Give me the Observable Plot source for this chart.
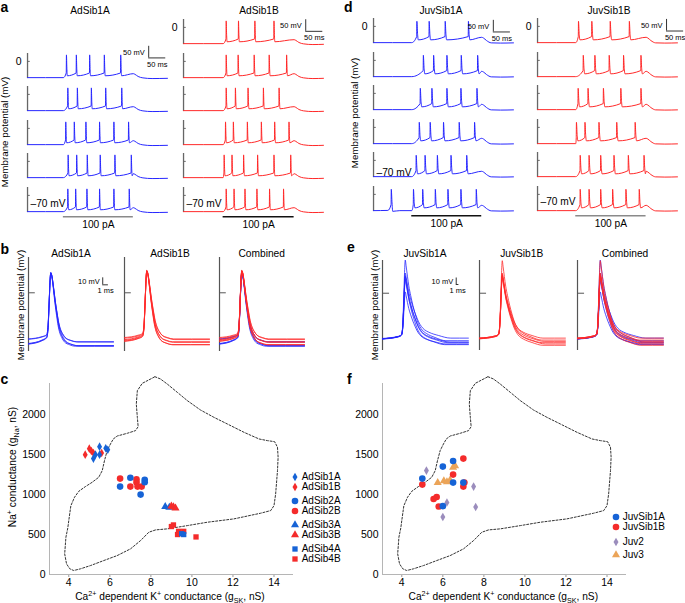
<!DOCTYPE html>
<html>
<head>
<meta charset="utf-8">
<script src="https://cdn.jsdelivr.net/npm/d3@7"></script>
<script src="https://cdn.jsdelivr.net/npm/@observablehq/plot@0.6"></script>
<style>
html,body{margin:0;padding:0;background:#fff;}
#fig{position:relative;width:685px;height:603px;overflow:hidden;font-family:"Liberation Sans",Arial,Helvetica,sans-serif;color:#000;}
#fig .t{position:absolute;white-space:nowrap;line-height:1;}
#fig sup,#fig sub{font-size:70%;line-height:0;}
</style>
</head>
<body>
<div id="fig"></div>
<script>
// ================= DATA =================
// Panels a / d : spike times (ms from trace start), one array per trace row (top to bottom)
const adSib1A_spikes = [
  [114, 143, 182, 225, 273],
  [118, 146, 187, 229, 276],
  [112, 137, 171, 211, 253, 296],
  [119, 144, 175, 213, 256, 304],
  [118, 141, 174, 211, 253, 298]
];
const adSib1B_spikes = [
  [125, 161, 209, 265],
  [125, 160, 207, 251, 302],
  [125, 152, 189, 234, 280],
  [123, 146, 187, 228, 267, 309],
  [119, 142, 176, 217, 265, 314],
  [125, 148, 180, 215, 252, 293]
];
const juvSib1A_spikes = [
  [127, 163, 210, 278],
  [146, 176, 215, 257, 305],
  [137, 171, 215, 256, 303],
  [134, 166, 205, 251, 296],
  [125, 151, 187, 227, 273],
  [52, 117, 144, 181, 218, 256, 301]
];
const juvSib1B_spikes = [
  [120, 159, 213, 269],
  [134, 168, 210, 252, 303],
  [119, 148, 193, 244, 303],
  [114, 139, 180, 232, 286],
  [125, 151, 185, 224, 266, 312],
  [125, 151, 185, 220, 259, 298]
];
// 100 pA current step windows (ms)
const adSib1A_step = [105, 310];
const adSib1B_step = [116, 324];
const juvSib1A_step = [112, 317];
const juvSib1B_step = [112, 318];

// Panels b / e : single action potentials [start, onset, peak, end (mV), width factor]
const adSib1A_ap = [[-66, -60, 29, -70, 1.0], [-66.5, -60.5, 28, -70.5, 1.05], [-72.5, -63.5, 29, -75.5, 1.0], [-73, -64, 28.5, -76, 1.08], [-73.5, -64.5, 28, -76.5, 0.96]];
const adSib1B_ap = [[-64, -58, 32, -66, 1.05], [-65, -59, 31, -67, 1.1], [-67, -60, 32, -70, 1.0], [-68, -61, 31, -71, 1.05], [-69, -62, 31.5, -74, 0.98], [-69.5, -62.5, 30.5, -74.5, 1.02]];
const juvSib1A_ap = [[-70, -64, 51, -73, 1.0], [-70, -64, 31, -69, 1.12], [-70.5, -64.5, 27, -76, 1.05], [-70, -64, 25, -79, 0.97], [-69.5, -63.5, 21, -75, 1.1], [-70, -64, 2, -78, 1.0]];
const juvSib1B_ap = [[-69, -63, 50, -72, 0.97], [-69, -63, 31, -69, 1.0], [-69.5, -63.5, 29, -74, 1.03], [-70, -64, 28, -76, 0.98], [-69, -63, 27, -78, 1.06], [-70, -64, 26, -80, 1.0]];
// AP shape templates: [ms relative to peak, fraction of amplitude]
const adultRise = [[-0.5, 0.12], [-0.3, 0.5], [-0.12, 0.88]];
const adultDecay = [[0.2, 0.95], [0.47, 0.79], [0.75, 0.6], [1.07, 0.42], [1.35, 0.28], [1.67, 0.18], [2.0, 0.12], [2.5, 0.06], [3.47, 0.02], [4.5, 0]];
const juvRise = [[-1.0, 0.1], [-0.6, 0.45], [-0.3, 0.8]];
const juvDecay = [[0.3, 0.93], [0.8, 0.8], [1.3, 0.68], [2.0, 0.56], [2.8, 0.44], [3.6, 0.34], [4.4, 0.25], [5.3, 0.18], [6.3, 0.13], [7.8, 0.09], [11, 0.04], [15, 0]];

// Panel c : conductances (gSK nS, gNa nS)
const adSib1A_gSK = [5.2, 5.3, 5.5, 5.5, 5.8, 5.9];
const adSib1A_gNa = [1450, 1500, 1600, 1500, 1580, 1560];
const adSib1B_gSK = [4.8, 5.0, 5.1, 5.2, 5.6];
const adSib1B_gNa = [1500, 1575, 1545, 1520, 1520];
const adSib2A_gSK = [6.5, 7.0, 7.7, 7.7, 7.5];
const adSib2A_gNa = [1100, 1210, 1185, 1155, 1000];
const adSib2B_gSK = [6.5, 7.0, 7.3, 7.3, 7.35, 7.55];
const adSib2B_gNa = [1200, 1100, 1190, 1150, 1100, 1100];
const adSib3A_gSK = [8.7, 8.9];
const adSib3A_gNa = [850, 840];
const adSib3B_gSK = [9.0, 9.1, 9.2];
const adSib3B_gNa = [855, 845, 830];
const adSib4A_gSK = [9.5, 9.6];
const adSib4A_gNa = [510, 500];
const adSib4B_gSK = [9.0, 9.1, 9.35, 9.6, 9.3, 10.2];
const adSib4B_gNa = [600, 620, 540, 540, 500, 470];
// Panel f
const juvSib1A_gSK = [6.5, 6.0, 5.0, 6.5, 7.0, 6.0];
const juvSib1A_gNa = [1420, 1350, 1200, 1150, 1150, 855];
const juvSib1B_gSK = [7.0, 6.5, 5.0, 7.05, 7.0, 5.55, 5.7, 5.8];
const juvSib1B_gNa = [1450, 1250, 1125, 1150, 1100, 945, 970, 850];
const juv2_gSK = [5.2, 7.5, 6.2, 7.6, 6.0];
const juv2_gNa = [1300, 1100, 900, 845, 720];
const juv3_gSK = [5.75, 6.05, 6.2, 6.35, 6.5, 6.6];
const juv3_gNa = [1150, 1170, 1160, 1180, 1340, 1360];
// dashed boundary of the model solution space
const polyGSK = [8.2, 8.47, 8.8, 9.29, 9.78, 10.42, 11.07, 11.73, 12.54, 13.27, 13.68, 14.03, 14.17, 14.2, 14.17, 14.08, 14.0, 13.84, 13.35, 12.05, 10.75, 9.78, 8.8, 8.23, 7.9, 7.5, 7.01, 6.36, 5.71, 5.06, 4.57, 4.24, 4.05, 3.89, 3.8, 3.86, 3.95, 4.0, 4.1, 4.28, 4.49, 4.81, 5.14, 5.46, 5.63, 5.74, 5.87, 6.03, 6.17, 6.36, 6.85, 7.25, 7.38, 7.34, 7.29, 7.34, 7.58, 8.2];
const polyGNa = [2475, 2446, 2383, 2279, 2175, 2058, 1967, 1883, 1779, 1696, 1675, 1662, 1592, 1467, 1300, 1008, 862, 800, 767, 696, 654, 612, 571, 558, 529, 425, 321, 237, 175, 112, 71, 50, 71, 133, 258, 467, 580, 675, 860, 967, 1042, 1100, 1154, 1217, 1300, 1425, 1550, 1633, 1696, 1733, 1767, 1800, 1850, 1967, 2133, 2300, 2392, 2475];
const xTicks = [4, 6, 8, 10, 12, 14];
const yTicks = [0, 500, 1000, 1500, 2000];

// ================= STYLE / LAYOUT =================
const FONT = '"Liberation Sans", Arial, Helvetica, sans-serif';
const BLUE_TR = "#2626ff", RED_TR = "#ff2828";
const BLUE = "#1663d6", RED = "#f42b2b", PURPLE = "#9b8dbd", ORANGE = "#eba458";
const svgStyle = {overflow: "visible", fontFamily: FONT, fontSize: "10.5px", background: "transparent", color: "#000"};
const fig = document.getElementById("fig");

function place(el, x, y) {
  el.style.position = "absolute"; el.style.left = x + "px"; el.style.top = y + "px";
  el.style.overflow = "visible"; el.style.maxWidth = "none";
  fig.appendChild(el); return el;
}
function label(html, x, y, o = {}) {
  const d = document.createElement("div");
  d.className = "t";
  d.innerHTML = html;
  d.style.fontSize = (o.size || 10.2) + "px";
  if (o.bold) d.style.fontWeight = "bold";
  const tx = o.anchor === "start" ? "0" : o.anchor === "end" ? "-100%" : "-50%";
  d.style.transform = `translate(${tx},-50%)` + (o.rotate ? ` rotate(${o.rotate}deg)` : "");
  return place(d, x, y);
}

// ---------- traces (a, d) ----------
const ADULT = {rest: -70, ahp: -62, thr: -50, peak: 28, w: 1.0, end: -74};
const JUV = {rest: -70, ahp: -58, thr: -44, peak: 22, w: 1.6, end: -72};
const ROW_T = 410, ROW_PX = 0.3415, ROW_V = [-78, 34], ROW_H = 28, ROW_STEP = 33.5;

function buildTrace(spikes, stim, L, T) {
  const pts = [{t: 0, v: L.rest}];
  const spike = s => [{t: s - 0.6, v: L.thr}, {t: s, v: L.peak}, {t: s + 1.2 * L.w, v: -30}, {t: s + 2.6 * L.w, v: L.ahp}];
  for (const s of spikes.filter(s => s < stim[0])) {
    pts.push({t: s - 10, v: L.rest + 1}, ...spike(s).slice(0, 3), {t: s + 2.6 * L.w, v: L.rest - 3}, {t: s + 25, v: L.rest});
  }
  pts.push({t: stim[0], v: L.rest});
  const during = spikes.filter(s => s >= stim[0]);
  for (const s of during) pts.push(...spike(s));
  const tEnd = Math.max(stim[1], (during.length ? during[during.length - 1] : 0) + 6);
  pts.push({t: tEnd, v: L.thr - 3}, {t: tEnd + 5, v: L.thr - 6}, {t: tEnd + 14, v: L.ahp - 3},
           {t: tEnd + 28, v: L.rest - 1}, {t: tEnd + 55, v: L.end}, {t: T, v: L.end + 1});
  return pts;
}

function traceColumn(c) {
  c.spikes.forEach((spikes, i) => {
    const last = i === c.spikes.length - 1;
    const marks = [
      Plot.ruleX([0], {y1: -74, y2: 34, stroke: "#666", strokeWidth: 1.3}),
      Plot.ruleY([0], {x1: 0, x2: 8, stroke: "#666", strokeWidth: 1}),
      Plot.line(buildTrace(spikes, c.stim, c.L, ROW_T), {x: "t", y: "v", stroke: c.color, strokeWidth: 1, curve: "monotone-x"})
    ];
    if (i === 0) {
      marks.push(
        Plot.text(["0"], {x: 0, y: 0, text: d => d, dx: -6, textAnchor: "end", fontSize: 10.5}),
        Plot.ruleX([c.bar.t], {y1: c.bar.v, y2: c.bar.v + 50, stroke: "#333", strokeWidth: 1}),
        Plot.ruleY([c.bar.v], {x1: c.bar.t, x2: c.bar.t + 50, stroke: "#333", strokeWidth: 1}),
        Plot.text(["50 mV"], {x: c.bar.t, y: c.bar.v + 25, text: d => d, dx: -4, textAnchor: "end", fontSize: 7.5}),
        Plot.text(["50 ms"], {x: c.bar.t + 25, y: c.bar.v, text: d => d, dy: 6.5, fontSize: 7.5})
      );
    }
    if (i === c.restRow) {
      marks.push(Plot.text(["\u201370 mV"], {x: 0, y: -70, text: d => d, dx: 3, dy: c.restDy, textAnchor: "start", fontSize: 10.2}));
    }
    if (last) {
      marks.push(
        Plot.ruleY([-92], {x1: c.stim[0], x2: c.stim[1], stroke: c.stimColor, strokeWidth: 1.3}),
        Plot.text(["100 pA"], {x: (c.stim[0] + c.stim[1]) / 2, y: -92, text: d => d, dy: 8, fontSize: 10.2})
      );
    }
    const svg = Plot.plot({
      width: ROW_T * ROW_PX + 2, height: ROW_H,
      marginLeft: 1, marginRight: 1, marginTop: 1, marginBottom: 1,
      x: {domain: [0, ROW_T], axis: null},
      y: {domain: ROW_V, axis: null},
      style: svgStyle, marks
    });
    const base = c.base0 + i * ROW_STEP;
    const top = base - (1 + (ROW_V[1] + 70) / (ROW_V[1] - ROW_V[0]) * (ROW_H - 2));
    place(svg, c.axisX - 1, top);
  });
}

traceColumn({spikes: adSib1A_spikes, stim: adSib1A_step, L: ADULT, color: BLUE_TR, axisX: 27, base0: 77, bar: {t: 355, v: 15}, restRow: 4, restDy: -8, stimColor: "#8a8a8a"});
traceColumn({spikes: adSib1B_spikes, stim: adSib1B_step, L: ADULT, color: RED_TR, axisX: 182.7, base0: 43.3, bar: {t: 358, v: -17}, restRow: 5, restDy: -8, stimColor: "#111"});
traceColumn({spikes: juvSib1A_spikes, stim: juvSib1A_step, L: JUV, color: BLUE_TR, axisX: 373.3, base0: 42.3, bar: {t: 351, v: -24}, restRow: 4, restDy: -4, stimColor: "#111"});
traceColumn({spikes: juvSib1B_spikes, stim: juvSib1B_step, L: JUV, color: RED_TR, axisX: 536.7, base0: 42.3, bar: {t: 378, v: -20}, restRow: 5, restDy: -9, stimColor: "#8a8a8a"});

// ---------- single APs (b, e) ----------
const ADULT_AP = {tPre: 2.4, tOn: 3.2, tPk: 3.93, T: 15, rise: adultRise, decay: adultDecay};
const JUV_AP = {tPre: 5.8, tOn: 7.0, tPk: 8.4, T: 31.7, rise: juvRise, decay: juvDecay};
function buildAP([v0, vOn, vPk, vEnd, k], tm) {
  const pts = [{t: 0, v: v0}, {t: tm.tPre, v: v0 + (vOn - v0) * 0.55}, {t: tm.tOn, v: vOn}];
  for (const [dt, f] of tm.rise) pts.push({t: tm.tPk + dt, v: vOn + f * (vPk - vOn)});
  pts.push({t: tm.tPk, v: vPk});
  for (const [dt, f] of tm.decay) { const t = tm.tPk + dt * k; if (t < tm.T) pts.push({t, v: vEnd + f * (vPk - vEnd)}); }
  pts.push({t: tm.T, v: vEnd});
  return pts;
}
function apPanel(o) {
  const marks = [
    Plot.ruleX([0], {y1: o.vdom[0], y2: o.vdom[1], stroke: "#555", strokeWidth: 1.2}),
    Plot.ruleY([0], {x1: 0, x2: o.tickLen, stroke: "#555", strokeWidth: 1})
  ];
  o.sets.forEach((s, si) => {
    const rows = s.params.flatMap((p, i) => buildAP(p, o.tm).map(d => ({...d, id: si + "-" + i})));
    marks.push(Plot.line(rows, {x: "t", y: "v", z: "id", stroke: s.color, strokeWidth: 0.8, curve: "monotone-x"}));
  });
  if (o.bar) {
    const b = o.bar;
    marks.push(
      Plot.ruleX([b.t], {y1: b.v, y2: b.v + 10, stroke: "#333", strokeWidth: 1}),
      Plot.ruleY([b.v], {x1: b.t, x2: b.t + 1, stroke: "#333", strokeWidth: 1}),
      Plot.text(["10 mV"], {x: b.t, y: b.v + 5, text: d => d, dx: -3, textAnchor: "end", fontSize: 7.5}),
      Plot.text(["1 ms"], {x: b.t + 0.5, y: b.v, text: d => d, dy: 6, fontSize: 7.5})
    );
  }
  const svg = Plot.plot({
    width: o.tm.T * o.px + 2, height: o.height,
    marginLeft: 1, marginRight: 1, marginTop: 0, marginBottom: 0,
    x: {domain: [0, o.tm.T], axis: null},
    y: {domain: o.vdom, axis: null},
    style: svgStyle, marks
  });
  place(svg, o.axisX - 1, o.top);
}
const bCommon = {tm: ADULT_AP, px: 5.667, vdom: [-84, 50.5], height: 94, top: 256.7, tickLen: 1.2};
apPanel({...bCommon, axisX: 28.3, sets: [{params: adSib1A_ap, color: BLUE_TR}], bar: {t: 13.1, v: 11.4}});
apPanel({...bCommon, axisX: 124.3, sets: [{params: adSib1B_ap, color: RED_TR}]});
apPanel({...bCommon, axisX: 219, sets: [{params: adSib1A_ap, color: BLUE_TR}, {params: adSib1B_ap, color: RED_TR}]});
const eCommon = {tm: JUV_AP, px: 2.71, vdom: [-88, 50.3], height: 90, top: 260, tickLen: 2.6};
apPanel({...eCommon, axisX: 382.3, sets: [{params: juvSib1A_ap, color: BLUE_TR}], bar: {t: 27.2, v: 13.4}});
apPanel({...eCommon, axisX: 479.3, sets: [{params: juvSib1B_ap, color: RED_TR}]});
apPanel({...eCommon, axisX: 576.7, sets: [{params: juvSib1A_ap, color: BLUE_TR}, {params: juvSib1B_ap, color: RED_TR}]});

// ---------- scatter (c, f) ----------
const X_DOM = [3.06, 14.95];
const poly = polyGSK.map((x, i) => ({x, y: polyGNa[i]}));
const zip = (xs, ys) => xs.map((x, i) => ({x, y: ys[i]}));
function scatter(left, series) {
  const svg = Plot.plot({
    width: 300, height: 232, marginLeft: 49, marginRight: 7, marginTop: 13, marginBottom: 28,
    x: {domain: X_DOM, ticks: xTicks, tickSize: 3, tickPadding: 1.5, label: null, tickFormat: "d"},
    y: {domain: [0, 2390], ticks: yTicks, tickSize: 0, tickPadding: 4, label: null, tickFormat: "d"},
    style: svgStyle,
    marks: [
      Plot.ruleY([0], {stroke: "#b5b5b5"}),
      Plot.ruleX([X_DOM[0]], {stroke: "#b5b5b5"}),
      Plot.line(poly, {x: "x", y: "y", stroke: "#333", strokeWidth: 1, strokeDasharray: "2,1.7"}),
      ...series.map(s => Plot.dot(zip(s.x, s.y), {x: "x", y: "y", symbol: s.symbol, fill: s.color, r: s.r}))
    ]
  });
  svg.querySelectorAll('[aria-label^="x-axis"] line, [aria-label="x-axis tick"] path').forEach(e => e.setAttribute("stroke", "#999"));
  place(svg, left, 370);
}
const R = {diamond: 2.6, circle: 3.3, triangle: 3.0, square: 3.0};
scatter(0, [
  {x: adSib1B_gSK, y: adSib1B_gNa, symbol: "diamond", color: RED, r: R.diamond},
  {x: adSib1A_gSK, y: adSib1A_gNa, symbol: "diamond", color: BLUE, r: R.diamond},
  {x: adSib2B_gSK, y: adSib2B_gNa, symbol: "circle", color: RED, r: R.circle},
  {x: adSib2A_gSK, y: adSib2A_gNa, symbol: "circle", color: BLUE, r: R.circle},
  {x: adSib3A_gSK, y: adSib3A_gNa, symbol: "triangle", color: BLUE, r: R.triangle},
  {x: adSib3B_gSK, y: adSib3B_gNa, symbol: "triangle", color: RED, r: R.triangle},
  {x: adSib4B_gSK, y: adSib4B_gNa, symbol: "square", color: RED, r: R.square},
  {x: adSib4A_gSK, y: adSib4A_gNa, symbol: "square", color: BLUE, r: R.square}
]);
scatter(333.3, [
  {x: juv2_gSK, y: juv2_gNa, symbol: "diamond", color: PURPLE, r: R.diamond},
  {x: juv3_gSK, y: juv3_gNa, symbol: "triangle", color: ORANGE, r: R.triangle},
  {x: juvSib1B_gSK, y: juvSib1B_gNa, symbol: "circle", color: RED, r: R.circle},
  {x: juvSib1A_gSK, y: juvSib1A_gNa, symbol: "circle", color: BLUE, r: R.circle}
]);

// legends
const SYM = {diamond: d3.symbolDiamond, circle: d3.symbolCircle, triangle: d3.symbolTriangle, square: d3.symbolSquare};
function legend(items, x, ys) {
  items.forEach((it, i) => {
    const s = d3.create("svg").attr("width", 12).attr("height", 12).style("overflow", "visible");
    s.append("path").attr("transform", "translate(6,6)")
      .attr("d", d3.symbol(SYM[it.symbol], Math.PI * R[it.symbol] * R[it.symbol])())
      .attr("fill", it.color);
    place(s.node(), x - 6, ys[i] - 6);
    label(it.name, x + 6.7, ys[i], {anchor: "start", size: 10});
  });
}
legend([
  {name: "AdSib1A", symbol: "diamond", color: BLUE}, {name: "AdSib1B", symbol: "diamond", color: RED},
  {name: "AdSib2A", symbol: "circle", color: BLUE}, {name: "AdSib2B", symbol: "circle", color: RED},
  {name: "AdSib3A", symbol: "triangle", color: BLUE}, {name: "AdSib3B", symbol: "triangle", color: RED},
  {name: "AdSib4A", symbol: "square", color: BLUE}, {name: "AdSib4B", symbol: "square", color: RED}
], 295, [476.7, 486.7, 500.7, 510.7, 524.7, 534.7, 548.7, 558.7]);
legend([
  {name: "JuvSib1A", symbol: "circle", color: BLUE}, {name: "JuvSib1B", symbol: "circle", color: RED},
  {name: "Juv2", symbol: "diamond", color: PURPLE}, {name: "Juv3", symbol: "triangle", color: ORANGE}
], 616, [516.7, 526.5, 541.7, 555]);

// ---------- text ----------
label("a", 0.5, 6.5, {anchor: "start", bold: true, size: 14});
label("b", 0.5, 248.5, {anchor: "start", bold: true, size: 14});
label("c", 0.5, 378.5, {anchor: "start", bold: true, size: 14});
label("d", 344, 6.5, {anchor: "start", bold: true, size: 14});
label("e", 347, 247, {anchor: "start", bold: true, size: 14});
label("f", 347, 379, {anchor: "start", bold: true, size: 14});

label("AdSib1A", 90, 11, {size: 10.2});
label("AdSib1B", 259, 11, {size: 10.2});
label("JuvSib1A", 441, 11, {size: 10.2});
label("JuvSib1B", 609, 11, {size: 10.2});
label("AdSib1A", 71, 254.3); label("AdSib1B", 170, 254.3); label("Combined", 261.7, 254.3);
label("JuvSib1A", 425, 254.3); label("JuvSib1B", 521.7, 254.3); label("Combined", 625, 254.3);

const mp = "Membrane potential (mV)";
label(mp, 5, 132, {rotate: -90, size: 9.8});
label(mp, 21, 305, {rotate: -90, size: 9.8});
label(mp, 355, 113, {rotate: -90, size: 9.8});
label(mp, 375, 305, {rotate: -90, size: 9.8});

const xl = "Ca<sup>2+</sup> dependent K<sup>+</sup> conductance (g<sub>SK</sub>, nS)";
label(xl, 170, 596.5, {size: 10.2});
label(xl, 503.3, 596.5, {size: 10.2});
label("Na<sup>+</sup> conductance (g<sub>Na</sub>, nS)", 13, 467, {rotate: -90, size: 10.2});
</script>
</body>
</html>
